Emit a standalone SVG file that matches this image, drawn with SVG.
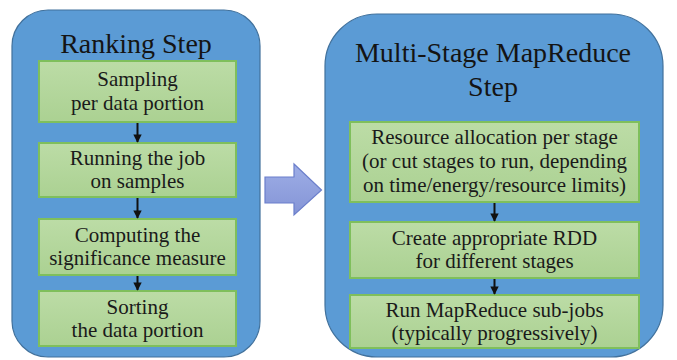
<svg xmlns="http://www.w3.org/2000/svg" width="677" height="360" viewBox="0 0 677 360">
  <defs>
    <linearGradient id="stepFill" x1="0" y1="0" x2="0" y2="1">
      <stop offset="0" stop-color="#bcdca6"/>
      <stop offset="1" stop-color="#abd192"/>
    </linearGradient>
    <linearGradient id="flowFill" x1="0" y1="0" x2="0" y2="1">
      <stop offset="0" stop-color="#9eaee6"/>
      <stop offset="1" stop-color="#8494d6"/>
    </linearGradient>
    <marker id="head" viewBox="0 0 10 10" refX="9" refY="5" markerWidth="4.2" markerHeight="4.2" orient="auto" markerUnits="strokeWidth">
      <path d="M0,0 L10,5 L0,10 Z" fill="#111"/>
    </marker>
    <style>
      .panel { fill: #5b9bd5; stroke: #41719c; stroke-width: 1.2; }
      .step { fill: url(#stepFill); stroke: #7fbf5c; stroke-width: 2; }
      text { font-family: 'Liberation Serif', Tinos, 'Times New Roman', 'DejaVu Serif', serif; }
      .title { font-size: 28px; fill: #141414; text-anchor: middle; }
      .label { font-size: 21px; fill: #1a1a1a; text-anchor: middle; }
      .link { stroke: #111; stroke-width: 2; fill: none; marker-end: url(#head); }
      .flow { fill: url(#flowFill); stroke: #6b7fcb; stroke-width: 1.2; }
    </style>
  </defs>

  <!-- Ranking panel -->
  <g id="ranking-step">
    <rect class="panel" x="12" y="10" width="248" height="347" rx="36" ry="36"/>
    <text class="title" x="136" y="53" font-family="Liberation Serif, Times New Roman, serif">Ranking Step</text>
  </g>
  <g id="sampling">
    <rect class="step" x="39" y="61" width="197" height="61"/>
    <text class="label" x="137.5" y="86">Sampling</text>
    <text class="label" x="137.5" y="110">per data portion</text>
  </g>
  <g id="running-job">
    <rect class="step" x="39" y="143" width="197" height="54"/>
    <text class="label" x="137.5" y="165">Running the job</text>
    <text class="label" x="137.5" y="188">on samples</text>
  </g>
  <g id="significance">
    <rect class="step" x="39" y="219" width="197" height="56"/>
    <text class="label" x="137.5" y="242">Computing the</text>
    <text class="label" x="137.5" y="265">significance measure</text>
  </g>
  <g id="sorting">
    <rect class="step" x="39" y="291" width="197" height="55"/>
    <text class="label" x="137.5" y="314">Sorting</text>
    <text class="label" x="137.5" y="337">the data portion</text>
  </g>

  <!-- Multi-stage MapReduce panel -->
  <g id="mapreduce-step">
    <rect class="panel" x="325" y="14" width="338" height="343" rx="52" ry="52"/>
    <text class="title" x="493" y="62">Multi-Stage MapReduce</text>
    <text class="title" x="493" y="96">Step</text>
  </g>
  <g id="resource-allocation">
    <rect class="step" x="350" y="122" width="289" height="80"/>
    <text class="label" x="494.5" y="144">Resource allocation per stage</text>
    <text class="label" x="494.5" y="168">(or cut stages to run, depending</text>
    <text class="label" x="494.5" y="192">on time/energy/resource limits)</text>
  </g>
  <g id="create-rdd">
    <rect class="step" x="350" y="222" width="289" height="56"/>
    <text class="label" x="494.5" y="245">Create appropriate RDD</text>
    <text class="label" x="494.5" y="268">for different stages</text>
  </g>
  <g id="run-subjobs">
    <rect class="step" x="350" y="295" width="289" height="53"/>
    <text class="label" x="494.5" y="317">Run MapReduce sub-jobs</text>
    <text class="label" x="494.5" y="340">(typically progressively)</text>
  </g>

  <!-- Block arrow between the panels -->
  <g id="panel-flow">
    <path class="flow" d="M265,177 L294,177 L294,164 L321.5,190 L294,215 L294,203 L265,203 Z"/>
  </g>

  <!-- Connectors -->
  <g id="connectors">
    <line class="link" x1="137.5" y1="123" x2="137.5" y2="142"/>
    <line class="link" x1="137.5" y1="198" x2="137.5" y2="218"/>
    <line class="link" x1="137.5" y1="276" x2="137.5" y2="290"/>
    <line class="link" x1="494.5" y1="203" x2="494.5" y2="221"/>
    <line class="link" x1="494.5" y1="279" x2="494.5" y2="294"/>
  </g>
</svg>
